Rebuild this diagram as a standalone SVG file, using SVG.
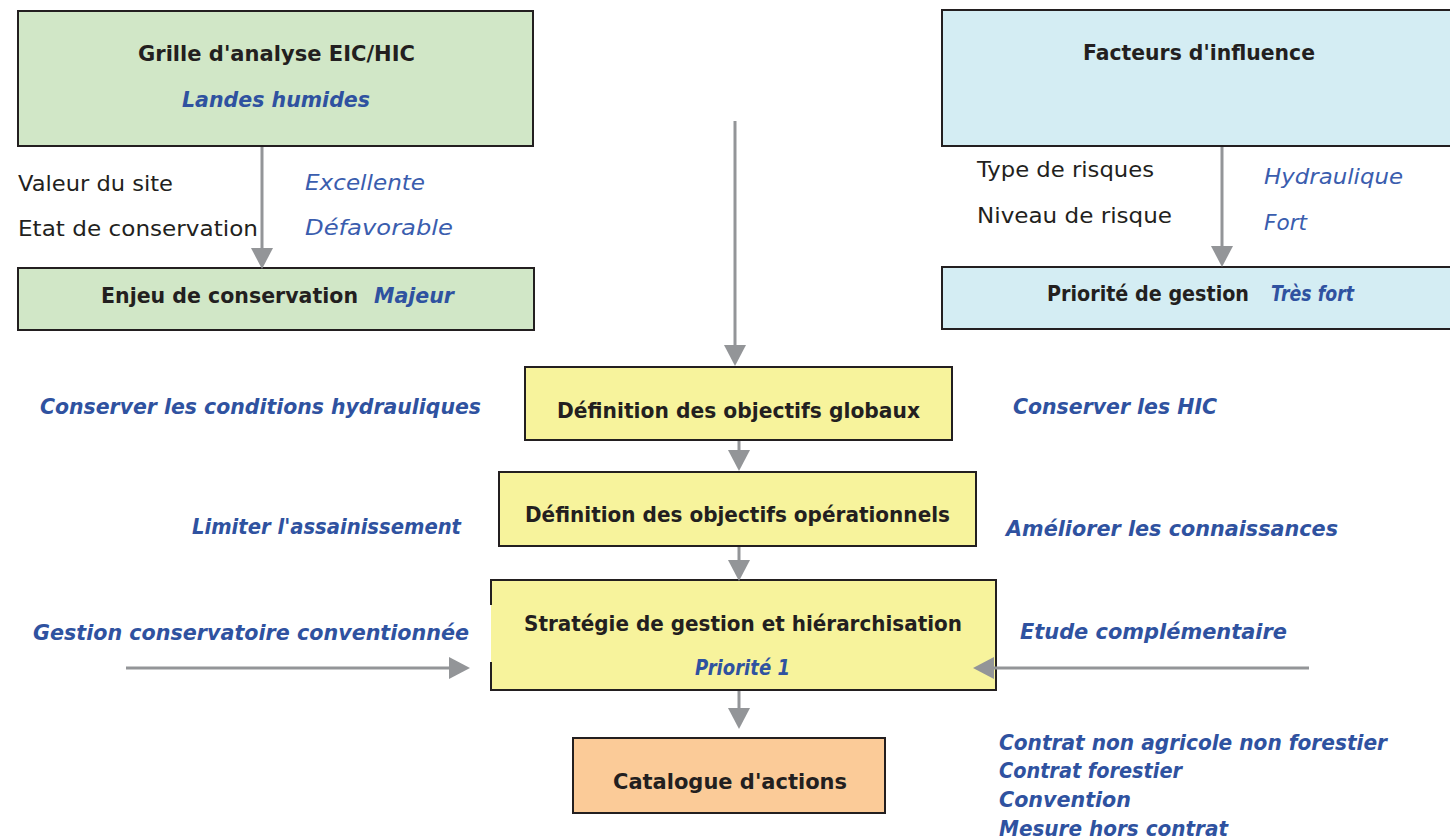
<svg xmlns="http://www.w3.org/2000/svg" width="1450" height="839" viewBox="0 0 1450 839">
<style>
text{font-family:"DejaVu Sans","Liberation Sans",sans-serif;font-size:22px}
.b{font-weight:bold;fill:#231F20}
.r{fill:#231F20}
.bi{font-weight:bold;font-style:italic;fill:#2F52A0}
.i{font-style:italic;fill:#3A5DAE}
.box{stroke:#231F20;stroke-width:2}
.g{fill:#D1E7C7}
.c{fill:#D4EDF3}
.y{fill:#F7F39C}
.o{fill:#FBCB98}
.ar{stroke:#939598;stroke-width:3;fill:none;marker-end:url(#ah)}
</style>
<defs>
<marker id="ah" markerUnits="userSpaceOnUse" markerWidth="22" markerHeight="22" refX="0" refY="11" orient="auto" viewBox="0 0 22 22">
<path d="M0,0 L21,11 L0,22 z" fill="#939598"/>
</marker>
</defs>
<rect width="1450" height="839" fill="#FFFFFF"/>

<g id="grille">
<rect class="box g" x="18" y="11" width="515" height="135"/>
<text class="b" x="138" y="61" textLength="277" lengthAdjust="spacingAndGlyphs">Grille d'analyse EIC/HIC</text>
<text class="bi" x="182" y="107" textLength="188" lengthAdjust="spacingAndGlyphs">Landes humides</text>
</g>
<g id="criteres-site">
<text class="r" x="18" y="191" textLength="155" lengthAdjust="spacingAndGlyphs">Valeur du site</text>
<text class="r" x="18" y="236" textLength="240" lengthAdjust="spacingAndGlyphs">Etat de conservation</text>
<text class="i" x="305" y="190" textLength="120" lengthAdjust="spacingAndGlyphs">Excellente</text>
<text class="i" x="305" y="235" textLength="148" lengthAdjust="spacingAndGlyphs">Défavorable</text>
</g>
<g id="enjeu">
<rect class="box g" x="18" y="268" width="516" height="62"/>
<text class="b" x="101" y="303" textLength="257" lengthAdjust="spacingAndGlyphs">Enjeu de conservation</text>
<text class="bi" x="374" y="303" textLength="80" lengthAdjust="spacingAndGlyphs">Majeur</text>
</g>

<g id="facteurs">
<rect class="box c" x="942" y="10" width="520" height="136"/>
<text class="b" x="1083" y="60" textLength="232" lengthAdjust="spacingAndGlyphs">Facteurs d'influence</text>
</g>
<g id="criteres-risque">
<text class="r" x="977" y="177" textLength="177" lengthAdjust="spacingAndGlyphs">Type de risques</text>
<text class="r" x="977" y="223" textLength="195" lengthAdjust="spacingAndGlyphs">Niveau de risque</text>
<text class="i" x="1264" y="184" textLength="139" lengthAdjust="spacingAndGlyphs">Hydraulique</text>
<text class="i" x="1264" y="230" textLength="43" lengthAdjust="spacingAndGlyphs">Fort</text>
</g>
<g id="priorite">
<rect class="box c" x="942" y="267" width="520" height="62"/>
<text class="b" x="1047" y="301" textLength="202" lengthAdjust="spacingAndGlyphs">Priorité de gestion</text>
<text class="bi" x="1271" y="301" textLength="83" lengthAdjust="spacingAndGlyphs">Très fort</text>
</g>

<g id="objectifs-globaux">
<rect class="box y" x="525" y="367" width="427" height="73"/>
<text class="b" x="557" y="418" textLength="363" lengthAdjust="spacingAndGlyphs">Définition des objectifs globaux</text>
</g>
<g id="objectifs-operationnels">
<rect class="box y" x="499" y="472" width="477" height="74"/>
<text class="b" x="525" y="522" textLength="425" lengthAdjust="spacingAndGlyphs">Définition des objectifs opérationnels</text>
</g>
<g id="strategie">
<rect class="y" x="491" y="580" width="505" height="110"/>
<path class="box" fill="none" d="M491,605 V580 H996 V690 H491 V662"/>
<text class="b" x="524" y="631" textLength="438" lengthAdjust="spacingAndGlyphs">Stratégie de gestion et hiérarchisation</text>
<text class="bi" x="695" y="675" textLength="95" lengthAdjust="spacingAndGlyphs">Priorité 1</text>
</g>
<g id="catalogue">
<rect class="box o" x="573" y="738" width="312" height="75"/>
<text class="b" x="613" y="789" textLength="234" lengthAdjust="spacingAndGlyphs">Catalogue d'actions</text>
</g>

<g id="labels">
<text class="bi" x="40" y="414" textLength="441" lengthAdjust="spacingAndGlyphs">Conserver les conditions hydrauliques</text>
<text class="bi" x="1013" y="414" textLength="204" lengthAdjust="spacingAndGlyphs">Conserver les HIC</text>
<text class="bi" x="192" y="534" textLength="269" lengthAdjust="spacingAndGlyphs">Limiter l'assainissement</text>
<text class="bi" x="1006" y="536" textLength="332" lengthAdjust="spacingAndGlyphs">Améliorer les connaissances</text>
<text class="bi" x="33" y="640" textLength="436" lengthAdjust="spacingAndGlyphs">Gestion conservatoire conventionnée</text>
<text class="bi" x="1020" y="639" textLength="267" lengthAdjust="spacingAndGlyphs">Etude complémentaire</text>
<text class="bi" x="999" y="750" textLength="388" lengthAdjust="spacingAndGlyphs">Contrat non agricole non forestier</text>
<text class="bi" x="999" y="778" textLength="183" lengthAdjust="spacingAndGlyphs">Contrat forestier</text>
<text class="bi" x="999" y="807" textLength="132" lengthAdjust="spacingAndGlyphs">Convention</text>
<text class="bi" x="999" y="836" textLength="229" lengthAdjust="spacingAndGlyphs">Mesure hors contrat</text>
</g>

<g id="connectors">
<line class="ar" x1="262" y1="147" x2="262" y2="248"/>
<line class="ar" x1="1222" y1="147" x2="1222" y2="246"/>
<line class="ar" x1="735" y1="121" x2="735" y2="345"/>
<line class="ar" x1="739" y1="441" x2="739" y2="450"/>
<line class="ar" x1="739" y1="547" x2="739" y2="560"/>
<line class="ar" x1="739" y1="691" x2="739" y2="708"/>
<line class="ar" x1="126" y1="668" x2="449" y2="668"/>
<line class="ar" x1="1309" y1="668" x2="994" y2="668"/>
</g>
</svg>
